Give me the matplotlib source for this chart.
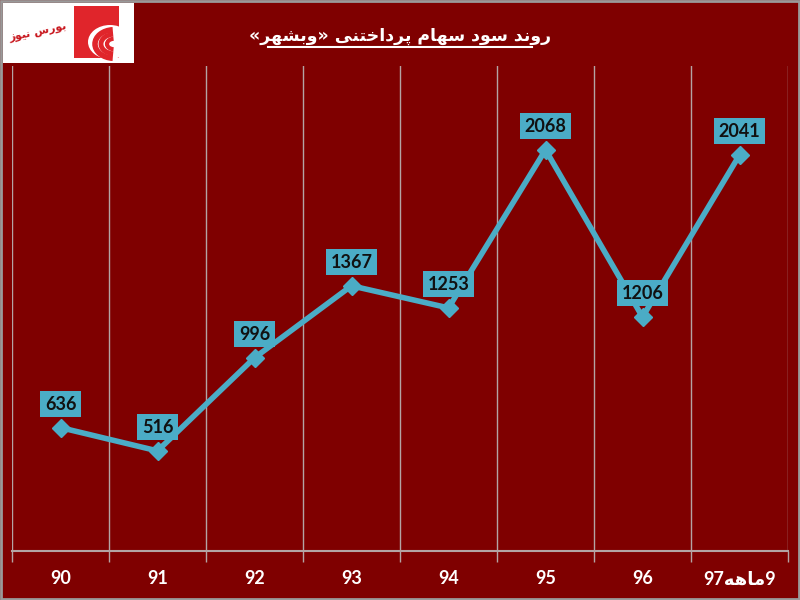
import re
import matplotlib
matplotlib.use("Agg")
import matplotlib.pyplot as plt
from matplotlib.patches import Rectangle, Arc, Ellipse

# data
years = ["90", "91", "92", "93", "94", "95", "96", "9ماهه97"]
dividend = [636, 516, 996, 1367, 1253, 2068, 1206, 2041]
title_text = "روند سود سهام پرداختنی «وبشهر»"
logo_text = "بورس نیوز"

BG = "#7f0000"
LINE = "#4bacc6"
GRID = "#b4a4a4"
LOGO_RED = "#e0252b"

# crude persian shaping (matplotlib has no RTL / joining support)
FORMS = {
    'ا': ('\uFE8D', '\uFE8E', None, None),
    'ب': ('\uFE8F', '\uFE90', '\uFE91', '\uFE92'),
    'پ': ('\uFB56', '\uFB57', '\uFB58', '\uFB59'),
    'ت': ('\uFE95', '\uFE96', '\uFE97', '\uFE98'),
    'خ': ('\uFEA5', '\uFEA6', '\uFEA7', '\uFEA8'),
    'د': ('\uFEA9', '\uFEAA', None, None),
    'ر': ('\uFEAD', '\uFEAE', None, None),
    'ز': ('\uFEAF', '\uFEB0', None, None),
    'س': ('\uFEB1', '\uFEB2', '\uFEB3', '\uFEB4'),
    'ش': ('\uFEB5', '\uFEB6', '\uFEB7', '\uFEB8'),
    'م': ('\uFEE1', '\uFEE2', '\uFEE3', '\uFEE4'),
    'ن': ('\uFEE5', '\uFEE6', '\uFEE7', '\uFEE8'),
    'ه': ('\uFEE9', '\uFEEA', '\uFEEB', '\uFEEC'),
    'و': ('\uFEED', '\uFEEE', None, None),
    'ی': ('\uFBFC', '\uFBFD', '\uFBFE', '\uFBFF'),
}
MIRROR = {'«': '»', '»': '«', '(': ')', ')': '('}


def rtl(text):
    out = []
    for i, ch in enumerate(text):
        if ch not in FORMS:
            out.append(MIRROR.get(ch, ch))
            continue
        prev = text[i - 1] if i > 0 else ''
        nxt = text[i + 1] if i + 1 < len(text) else ''
        iso, fin, ini, med = FORMS[ch]
        jp = prev in FORMS and FORMS[prev][2] is not None
        jn = ini is not None and nxt in FORMS
        if jp and jn:
            out.append(med)
        elif jn:
            out.append(ini)
        elif jp:
            out.append(fin)
        else:
            out.append(iso)
    tokens = re.findall(r'\d+|\D', ''.join(out))
    return ''.join(reversed(tokens))


fig = plt.figure(figsize=(8, 6), dpi=100, facecolor=BG)

ax = fig.add_axes([12 / 800, 1 - 551 / 600, 776 / 800, 485 / 600])
ax.set_facecolor(BG)
x = list(range(len(years)))
ax.plot(x, dividend, color=LINE, lw=4, marker="D", ms=9, zorder=3)

for xi, v in zip(x, dividend):
    ax.annotate(str(v), (xi, v), xytext=(0, 17), textcoords="offset points",
                ha="center", va="center", fontsize=13, fontweight="bold",
                family=["Lato", "DejaVu Sans"], color="#111111", zorder=4,
                bbox=dict(boxstyle="square,pad=0.25", fc=LINE, ec="none"))

ax.set_xlim(-0.5, len(years) - 0.5)
ax.set_ylim(0, 2500)
ax.set_yticks([])
ax.set_xticks(x)
ax.set_xticklabels([rtl(y) for y in years], color="white", fontsize=13,
                   fontweight="bold", family=["Lato", "DejaVu Sans"])
ax.set_xticks([i - 0.5 for i in range(len(years) + 1)], minor=True)
ax.tick_params(axis="x", which="major", length=0, pad=14)
ax.tick_params(axis="x", which="minor", length=8, color=GRID, width=1)
ax.grid(axis="x", which="minor", color=GRID, lw=1)
for s in ["top", "right", "left"]:
    ax.spines[s].set_visible(False)
ax.spines["bottom"].set_color(GRID)
ax.spines["bottom"].set_linewidth(1.5)

# overlay in pixel coords for title, logo, frame
ov = fig.add_axes([0, 0, 1, 1], facecolor="none")
ov.set_xlim(0, 800)
ov.set_ylim(600, 0)
ov.axis("off")
ov.text(400, 36, rtl(title_text), ha="center", va="center", color="white",
        fontsize=12.5, fontweight="bold", family="DejaVu Sans")
ov.plot([268, 532], [47, 47], color="white", lw=1.5)

# logo
ov.add_patch(Rectangle((3, 3), 131, 60, fc="white", ec="none"))
ov.add_patch(Rectangle((74, 6), 45, 52, fc=LOGO_RED, ec="none"))
ov.add_patch(Ellipse((110, 42), 44, 34, fc="white", ec="none"))
for r, w in [(19, 4), (13, 3.5), (7, 3)]:
    ov.add_patch(Arc((114, 44), 2 * r, 1.5 * r, theta1=95, theta2=265,
                     color=LOGO_RED, lw=w))
ov.text(38, 33, rtl(logo_text), ha="center", va="center", color="#c8161d",
        fontsize=8, fontweight="bold", rotation=12, family="DejaVu Sans")

ov.add_patch(Rectangle((1, 1), 798, 598, fc="none", ec="#9a9a9a", lw=2))

fig.savefig("out.png", dpi=100, facecolor=BG)
